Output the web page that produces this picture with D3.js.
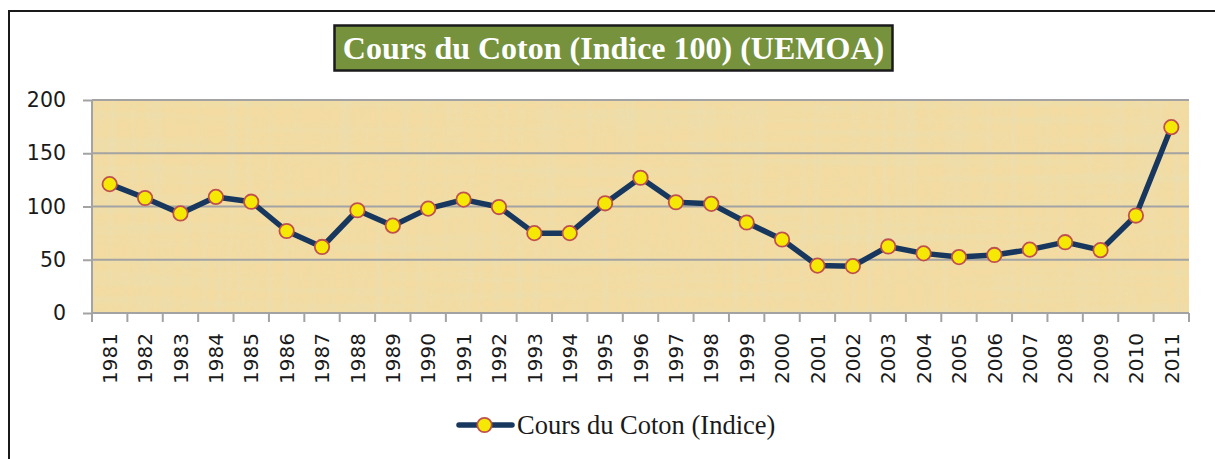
<!DOCTYPE html>
<html>
<head>
<meta charset="utf-8">
<script src="https://cdn.jsdelivr.net/npm/d3@7"></script>
<style>
  body { margin: 0; background: #fff; }
  svg { display: block; }
</style>
</head>
<body>
<svg id="chart"></svg>
<script>
const width = 1215, height = 459;

// data
const years = ["1981","1982","1983","1984","1985","1986","1987","1988","1989","1990",
  "1991","1992","1993","1994","1995","1996","1997","1998","1999","2000",
  "2001","2002","2003","2004","2005","2006","2007","2008","2009","2010","2011"];
const values = [121, 108, 93.5, 109, 104.5, 77, 62, 96.5, 82, 98,
  106.5, 99.5, 75, 75, 103, 127, 104, 102.5, 85, 69,
  44.5, 44, 62.5, 56, 52.5, 54.5, 59.5, 66.5, 59, 91.5, 174.5];
const yTicks = [0, 50, 100, 150, 200];
const titleText = "Cours du Coton (Indice 100) (UEMOA)";
const seriesName = "Cours du Coton (Indice)";

const colors = { line: "#17375E", marker: "#F5E805", markerStroke: "#C0504D",
  grid: "#A3A3A3", title: "#76923C", paper: "#F3DBA1" };

const svg = d3.select("#chart").attr("width", width).attr("height", height);

const x = d3.scaleBand().domain(years).range([92, 1189]).padding(0);
const y = d3.scaleLinear().domain([0, 200]).range([313, 100]);

// outer frame
svg.append("rect").attr("x", 9).attr("y", 11).attr("width", 1230).attr("height", 470)
  .attr("fill", "none").attr("stroke", "#1a1a1a").attr("stroke-width", 2);

// parchment-like plot background: streaks in both directions
const defs = svg.append("defs");
function streaks(id, freq, rgb, seed) {
  const f = defs.append("filter").attr("id", id).attr("x", 0).attr("y", 0).attr("width", 1).attr("height", 1);
  f.append("feTurbulence").attr("type", "fractalNoise").attr("baseFrequency", freq)
    .attr("numOctaves", 3).attr("seed", seed).attr("result", "noise");
  f.append("feColorMatrix").attr("in", "noise").attr("type", "matrix")
    .attr("values", `0 0 0 0 ${rgb[0]}  0 0 0 0 ${rgb[1]}  0 0 0 0 ${rgb[2]}  0 0 0 1.1 -0.45`).attr("result", "tint");
  f.append("feComposite").attr("in", "tint").attr("in2", "SourceGraphic").attr("operator", "in");
}
streaks("paperH", "0.004 0.12", [0.72, 0.78, 0.55], 3);
streaks("paperV", "0.12 0.004", [0.75, 0.76, 0.58], 7);

const plotW = x.range()[1] - x.range()[0], plotH = y(0) - y(200);
svg.append("rect").attr("x", x.range()[0]).attr("y", y(200)).attr("width", plotW).attr("height", plotH)
  .attr("fill", colors.paper);
["paperH", "paperV"].forEach(id => {
  svg.append("rect").attr("x", x.range()[0]).attr("y", y(200)).attr("width", plotW).attr("height", plotH)
    .attr("fill", "#fff").attr("filter", `url(#${id})`).attr("opacity", 0.45);
});

// gridlines
svg.append("g").selectAll("line").data(yTicks.filter(d => d > 0)).join("line")
  .attr("x1", x.range()[0]).attr("x2", x.range()[1])
  .attr("y1", d => y(d)).attr("y2", d => y(d))
  .attr("stroke", colors.grid).attr("stroke-width", 2);

// y axis
const yAxis = svg.append("g").attr("transform", `translate(${x.range()[0]},0)`)
  .call(d3.axisLeft(y).tickValues(yTicks).tickSize(9).tickPadding(17));
yAxis.select(".domain").attr("stroke", colors.grid).attr("stroke-width", 2).attr("d", `M0,${y(0)}V${y(200)}`);
yAxis.selectAll(".tick line").attr("stroke", colors.grid).attr("stroke-width", 2);
yAxis.selectAll("text").attr("font-family", "DejaVu Sans").attr("font-size", 20.5).attr("fill", "#1a1a1a");

// x axis with ticks at category boundaries
const xg = svg.append("g");
xg.append("line").attr("x1", x.range()[0]).attr("x2", x.range()[1]).attr("y1", y(0)).attr("y2", y(0))
  .attr("stroke", colors.grid).attr("stroke-width", 2);
const bounds = years.map(d => x(d)).concat([x.range()[1]]);
xg.selectAll(".xt").data(bounds).join("line")
  .attr("x1", d => d).attr("x2", d => d).attr("y1", y(0)).attr("y2", y(0) + 9)
  .attr("stroke", colors.grid).attr("stroke-width", 2);
xg.selectAll("text").data(years).join("text")
  .attr("transform", d => `translate(${x(d) + x.bandwidth() / 2},333) rotate(-90)`)
  .attr("text-anchor", "end").attr("dy", "0.36em")
  .attr("font-family", "DejaVu Sans").attr("font-size", 20).attr("fill", "#1a1a1a")
  .text(d => d);

// series
const pts = years.map((d, i) => [x(d) + x.bandwidth() / 2, y(values[i])]);
svg.append("path").attr("d", d3.line()(pts)).attr("fill", "none")
  .attr("stroke", colors.line).attr("stroke-width", 5.5).attr("stroke-linejoin", "round");
svg.append("g").selectAll("circle").data(pts).join("circle")
  .attr("cx", d => d[0]).attr("cy", d => d[1]).attr("r", 7.2)
  .attr("fill", colors.marker).attr("stroke", colors.markerStroke).attr("stroke-width", 1.8);

// title
const tb = svg.append("g");
tb.append("rect").attr("x", 334.5).attr("y", 25.5).attr("width", 558).attr("height", 45)
  .attr("fill", colors.title).attr("stroke", "#1a1a1a").attr("stroke-width", 2.5);
tb.append("text").attr("x", 613.5).attr("y", 59).attr("text-anchor", "middle")
  .attr("font-family", "Liberation Serif").attr("font-weight", "bold").attr("font-size", 32)
  .attr("fill", "#fff").text(titleText);

// legend
const lg = svg.append("g");
lg.append("line").attr("x1", 459).attr("x2", 512).attr("y1", 425).attr("y2", 425)
  .attr("stroke", colors.line).attr("stroke-width", 5.5).attr("stroke-linecap", "round");
lg.append("circle").attr("cx", 484.5).attr("cy", 425).attr("r", 7.2)
  .attr("fill", colors.marker).attr("stroke", colors.markerStroke).attr("stroke-width", 1.8);
lg.append("text").attr("x", 517).attr("y", 434)
  .attr("font-family", "Liberation Serif").attr("font-size", 26.5).attr("fill", "#1a1a1a")
  .text(seriesName);
</script>
</body>
</html>
